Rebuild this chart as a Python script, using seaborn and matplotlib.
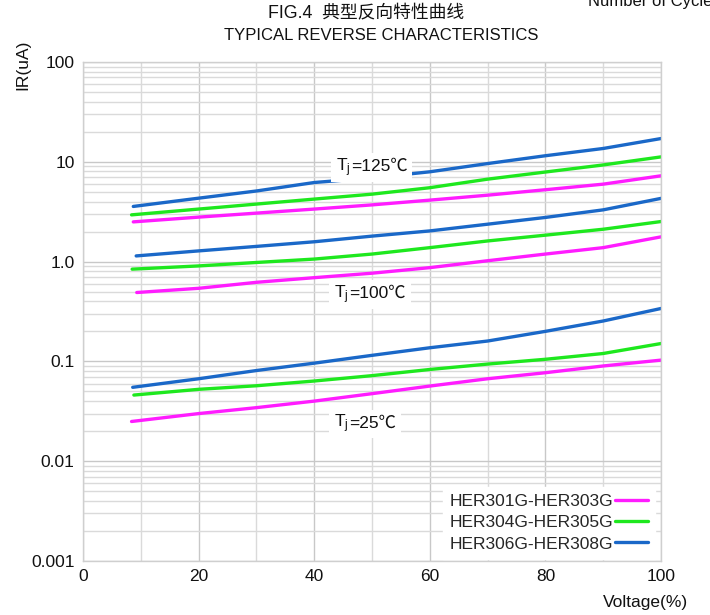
import numpy as np
import pandas as pd
import matplotlib
matplotlib.use("Agg")
import matplotlib.pyplot as plt
import matplotlib.patches as mpatches
from matplotlib.ticker import FixedLocator, FixedFormatter, NullFormatter
import seaborn as sns

# ---- data ----
series_names = ["HER301G-HER303G", "HER304G-HER305G", "HER306G-HER308G"]
series_colors = ["#ff1cff", "#1ee81e", "#1a68c8"]
temps = ["125", "100", "25"]

volt_mid = [20, 30, 40, 50, 60, 70, 80, 90, 100]

# Tj = 125 C
v_mag_125 = [8.7] + volt_mid
i_mag_125 = [2.5, 2.79, 3.06, 3.36, 3.7, 4.13, 4.63, 5.25, 5.97, 7.24]
v_grn_125 = [8.4] + volt_mid
i_grn_125 = [2.94, 3.36, 3.77, 4.23, 4.74, 5.5, 6.7, 7.9, 9.3, 11.2]
v_blu_125 = [8.7] + volt_mid
i_blu_125 = [3.57, 4.32, 5.1, 6.2, 6.9, 7.94, 9.6, 11.5, 13.6, 17.1]

# Tj = 100 C
v_mag_100 = [9.3] + volt_mid
i_mag_100 = [0.49, 0.54, 0.62, 0.69, 0.765, 0.87, 1.02, 1.19, 1.38, 1.77]
v_grn_100 = [8.5] + volt_mid
i_grn_100 = [0.84, 0.905, 0.98, 1.06, 1.19, 1.38, 1.61, 1.84, 2.11, 2.52]
v_blu_100 = [9.2] + volt_mid
i_blu_100 = [1.14, 1.28, 1.42, 1.58, 1.8, 2.03, 2.37, 2.77, 3.3, 4.3]

# Tj = 25 C
v_mag_25 = [8.4] + volt_mid
i_mag_25 = [0.025, 0.030, 0.0344, 0.040, 0.0475, 0.0566, 0.067, 0.077, 0.090, 0.103]
v_grn_25 = [8.8] + volt_mid
i_grn_25 = [0.046, 0.0525, 0.057, 0.0636, 0.072, 0.083, 0.094, 0.105, 0.120, 0.151]
v_blu_25 = [8.6] + volt_mid
i_blu_25 = [0.055, 0.067, 0.081, 0.096, 0.115, 0.137, 0.160, 0.200, 0.254, 0.339]

y_ticks = [0.001, 0.01, 0.1, 1.0, 10, 100]
y_tick_labels = ["0.001", "0.01", "0.1", "1.0", "10", "100"]
x_ticks = [0, 20, 40, 60, 80, 100]
x_tick_labels = ["0", "20", "40", "60", "80", "100"]

temp_labels = ["=125℃", "=100℃", "=25℃"]
temp_label_x = [43.7, 43.4, 43.4]
temp_label_y = [8.07, 0.43, 0.0218]   # baseline positions

# ---- build long table ----
curves = [
    (series_names[0], "125", v_mag_125, i_mag_125),
    (series_names[1], "125", v_grn_125, i_grn_125),
    (series_names[2], "125", v_blu_125, i_blu_125),
    (series_names[0], "100", v_mag_100, i_mag_100),
    (series_names[1], "100", v_grn_100, i_grn_100),
    (series_names[2], "100", v_blu_100, i_blu_100),
    (series_names[0], "25", v_mag_25, i_mag_25),
    (series_names[1], "25", v_grn_25, i_grn_25),
    (series_names[2], "25", v_blu_25, i_blu_25),
]
rows = []
for name, t, vs, cs in curves:
    for v, c in zip(vs, cs):
        rows.append({"voltage": v, "current": c, "series": name, "temp": t})
df = pd.DataFrame(rows)

# ---- style ----
sns.set_style("white")
plt.rcParams["font.family"] = ["Liberation Sans", "Noto Sans CJK SC", "DejaVu Sans"]
plt.rcParams["mathtext.fontset"] = "custom"
plt.rcParams["mathtext.rm"] = "Liberation Sans"
plt.rcParams["mathtext.it"] = "Liberation Sans"

fig = plt.figure(figsize=(7.1, 6.15), dpi=100)
ax = fig.add_axes([83 / 710, 1 - 561 / 615, (661 - 83) / 710, (561 - 62) / 615])

sns.lineplot(data=df, x="voltage", y="current", hue="series", units="temp",
             estimator=None, palette=dict(zip(series_names, series_colors)),
             hue_order=series_names, linewidth=2.4, ax=ax, sort=False)

ax.set_yscale("log")
ax.set_xlim(0, 100)
ax.set_ylim(0.001, 100)

ax.yaxis.set_major_locator(FixedLocator(y_ticks))
ax.yaxis.set_major_formatter(FixedFormatter(y_tick_labels))
minor_y = [m * 10.0 ** e for e in range(-3, 2) for m in range(2, 10)]
ax.yaxis.set_minor_locator(FixedLocator(minor_y))
ax.yaxis.set_minor_formatter(NullFormatter())
ax.xaxis.set_major_locator(FixedLocator(x_ticks))
ax.xaxis.set_major_formatter(FixedFormatter(x_tick_labels))
ax.xaxis.set_minor_locator(FixedLocator([10, 30, 50, 70, 90]))

ax.grid(True, which="major", axis="both", color="#c8c8c8", linewidth=1.0)
ax.grid(True, which="minor", axis="both", color="#dadada", linewidth=1.0)
ax.set_axisbelow(True)
ax.tick_params(axis="both", which="both", length=0, labelsize=12.5, colors="#111111")
ax.tick_params(axis="y", pad=6)
ax.tick_params(axis="x", pad=6)
for s in ax.spines.values():
    s.set_color("#cfcfcf")
    s.set_linewidth(1.0)

ax.set_xlabel("")
ax.set_ylabel("")

# legend
handles, labels = ax.get_legend_handles_labels()
leg = ax.legend(handles, labels, loc="lower right", bbox_to_anchor=(0.99, 0.005),
                markerfirst=False, frameon=True, fontsize=12.5, handlelength=1.9,
                handletextpad=0.1, labelspacing=0.36, borderpad=0.4, borderaxespad=0.0,
                fancybox=False)
leg.get_frame().set_facecolor("white")
leg.get_frame().set_edgecolor("white")
leg.get_frame().set_alpha(1.0)
for line in leg.get_lines():
    line.set_linewidth(2.4)

# titles and axis labels
fig.text(366 / 710, 1 - 14 / 615, "FIG.4  典型反向特性曲线", ha="center", va="center",
         fontsize=12.8, color="#111111")
fig.text(381 / 710, 1 - 36 / 615, "TYPICAL REVERSE CHARACTERISTICS", ha="center",
         va="center", fontsize=12, color="#111111")
fig.text(22.5 / 710, 1 - 65 / 615, "IR(uA)", rotation=90, ha="center", va="center",
         fontsize=12.5, color="#111111")
fig.text(645 / 710, 1 - 603 / 615, "Voltage(%)", ha="center", va="center",
         fontsize=12.5, color="#111111")
fig.text(588 / 710, 1 - 6 / 615, "Number of Cycles", ha="left", va="baseline",
         fontsize=12, color="#111111")

# temperature labels: "T" with subscript j (mathtext) followed by "=xxx℃" (plain text)
fig.canvas.draw()
renderer = fig.canvas.get_renderer()
inv = fig.transFigure.inverted()
for lab, tx, ty in zip(temp_labels, temp_label_x, temp_label_y):
    ta = ax.text(tx, ty, r"$\mathregular{T_j}$", fontsize=12.5, va="baseline", ha="left",
                 color="#111111", zorder=6)
    ea = ta.get_window_extent(renderer)
    bx, by = ax.transData.transform((tx, ty))
    fx, fy = inv.transform((ea.x1 + 0.5, by))
    tb = ax.text(fx, fy, lab, fontsize=12.5, va="baseline", ha="left",
                 color="#111111", zorder=6, transform=fig.transFigure)
    eb = tb.get_window_extent(renderer)
    x0 = min(ea.x0, eb.x0) - 5
    x1 = max(ea.x1, eb.x1) + 5
    y0 = min(ea.y0, eb.y0) - 3
    y1 = max(ea.y1, eb.y1) + 3
    (rx0, ry0) = inv.transform((x0, y0))
    (rx1, ry1) = inv.transform((x1, y1))
    rect = mpatches.Rectangle((rx0, ry0), rx1 - rx0, ry1 - ry0, transform=fig.transFigure,
                              facecolor="white", edgecolor="none", zorder=5)
    ax.add_patch(rect)

fig.savefig("out.png", dpi=100)
